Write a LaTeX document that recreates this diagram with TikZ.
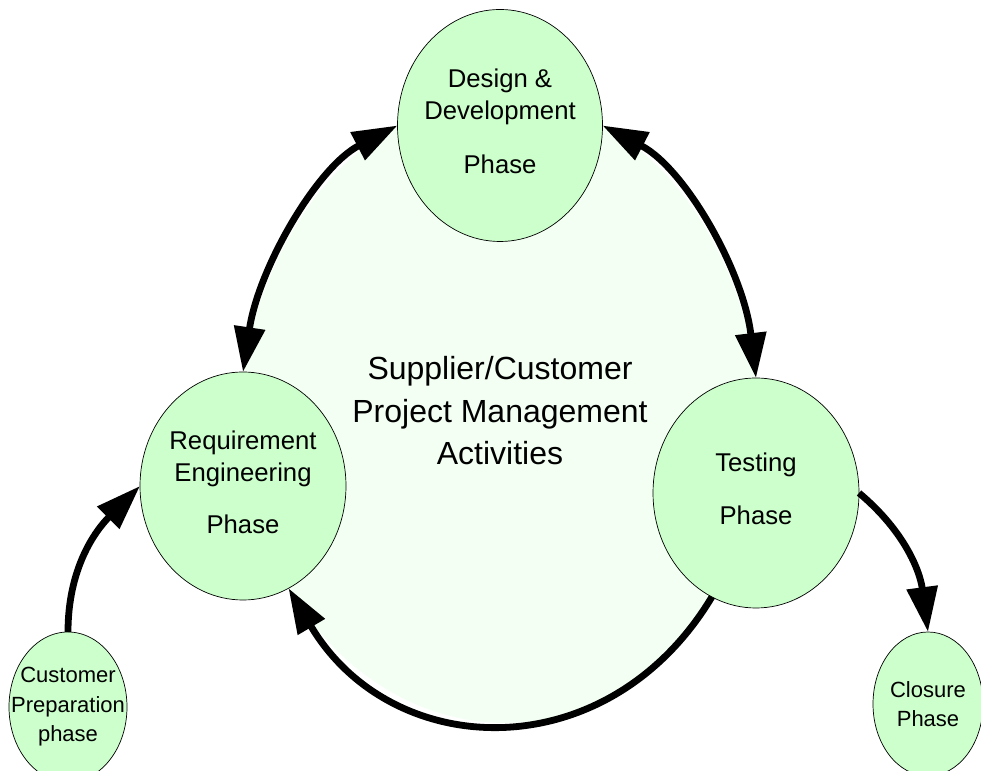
\documentclass[tikz,border=0pt]{standalone}
\usepackage{fontspec}
\setmainfont{Liberation Sans}
\usetikzlibrary{shapes.geometric,arrows.meta}
\definecolor{nodegreen}{RGB}{204,255,204}
\definecolor{bggreen}{RGB}{244,255,244}
\pgfdeclarelayer{background}
\pgfsetlayers{background,main}
\newcommand{\lowpad}{\rule[-8pt]{0pt}{8pt}}
\begin{document}
\begin{tikzpicture}[x=1pt,y=1pt,
  phase/.style={ellipse, draw=black, line width=0.7pt, fill=nodegreen, inner ysep=0pt, inner xsep=-25pt, outer sep=0pt, align=center, font=\fontsize{25.7}{32}\selectfont},
  minor/.style={phase, font=\fontsize{22}{29.5}\selectfont},
  bigtip/.tip={Triangle[length=45pt,width=30pt]},
  flow/.style={line width=6.8pt, -bigtip},
  twoway/.style={line width=6.8pt, bigtip-bigtip}]
\useasboundingbox (0,0) rectangle (981,770);
\node[font=\fontsize{32}{42.5}\selectfont, align=center] (title) at (500,359) {Supplier/Customer\\Project Management\\Activities};
\node[phase, minimum width=205pt, minimum height=232pt] (design) at (500,644.5) {Design \&\\Development\\[22pt]Phase\lowpad};
\node[phase, minimum width=206pt, minimum height=228pt] (req) at (243,284) {Requirement\\Engineering\\[20pt]Phase\lowpad};
\node[phase, minimum width=206pt, minimum height=230pt] (testing) at (756,277) {Testing\\[21pt]Phase\lowpad};
\node[minor, minimum width=118pt, minimum height=150pt] (customer) at (68,63) {Customer\\Preparation\\phase};
\node[minor, minimum width=110pt, minimum height=144pt] (closure) at (928,66) {Closure\\Phase};
\begin{pgfonlayer}{background}
\fill[white] (0,0) rectangle (981,770);
\fill[bggreen] (req.north) to[out=81.5, in=207.5, out looseness=0.92, in looseness=0.8] (design.west)
  -- (design.east) to[out=-27.5, in=96.7, out looseness=0.81, in looseness=0.925] (testing.north)
  -- (testing.247) to[out=-121, in=-59.4, looseness=1.22] (req.-66) -- cycle;
\end{pgfonlayer}
\draw[twoway] (req.north) to[out=81.5, in=207.5, out looseness=0.92, in looseness=0.8] (design.west);
\draw[twoway] (design.east) to[out=-27.5, in=96.7, out looseness=0.81, in looseness=0.925] (testing.north);
\draw[flow] (testing.247) to[out=-121, in=-59.4, looseness=1.22] (req.-66);
\draw[flow] (customer.north) to[out=90, in=225] (req.west);
\draw[flow] (testing.east) to[out=-40, in=97.5] (closure.north);
\end{tikzpicture}
\end{document}
